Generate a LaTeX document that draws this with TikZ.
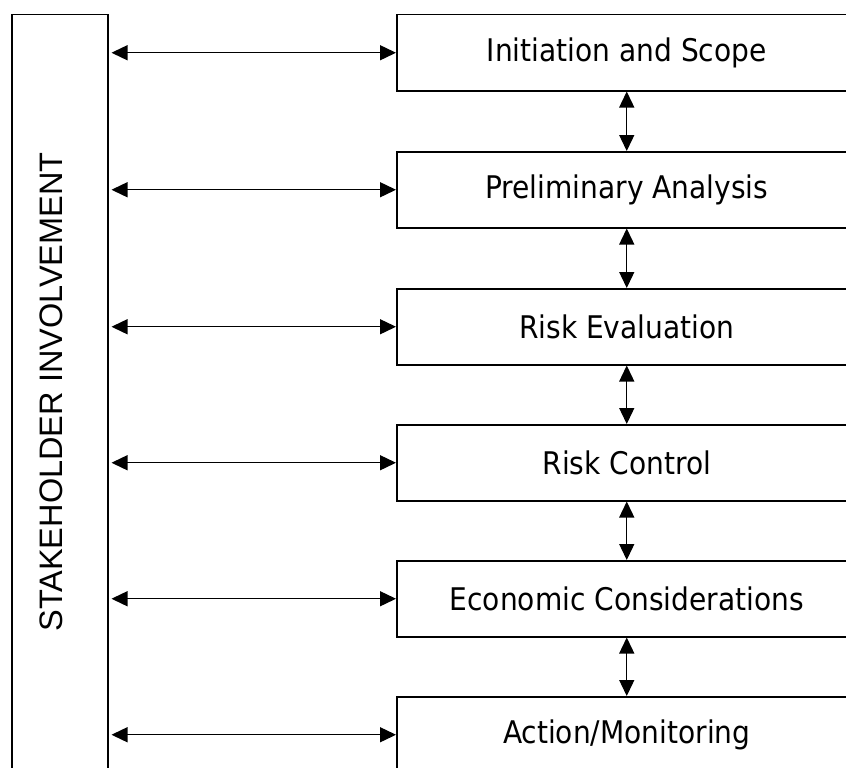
\documentclass[tikz,border=0pt]{standalone}
\usepackage{fontspec}
\setmainfont{Liberation Sans}
\newfontfamily\boxfont{DejaVu Sans Condensed}
\usetikzlibrary{arrows.meta}
\begin{document}
\begin{tikzpicture}[x=1pt,y=-1pt,
  stepbox/.style={draw=black,line width=1.5pt,minimum width=460pt,minimum height=76pt,inner sep=0pt,font=\boxfont\fontsize{31.2}{36}\selectfont,anchor=north west},
  link/.style={line width=1.4pt,{Triangle[length=16pt,width=15pt]}-{Triangle[length=16pt,width=15pt]}}
]
\useasboundingbox (0,0) rectangle (846,768);
\node[draw=black,line width=1.5pt,minimum width=96pt,minimum height=770pt,inner sep=0pt,anchor=north west] (sh) at (11,14) {};
\node[rotate=90,font=\fontsize{32.5}{36}\selectfont] (shl) at (51,392) {STAKEHOLDER INVOLVEMENT};
\node[stepbox] (b1) at (396,14) {Initiation and Scope};
\node[stepbox] (b2) at (396,151) {Preliminary Analysis};
\node[stepbox] (b3) at (396,288) {Risk Evaluation};
\node[stepbox] (b4) at (396,424) {Risk Control};
\node[stepbox] (b5) at (396,560) {Economic Considerations};
\node[stepbox] (b6) at (396,696) {Action/Monitoring};
\foreach \b in {b1,b2,b3,b4,b5,b6}{
  \draw[link,shorten <=3pt] (sh.east |- \b.west) -- (\b.west);
}
\foreach \a/\b in {b1/b2,b2/b3,b3/b4,b4/b5,b5/b6}{
  \draw[link] (\a.south) -- (\b.north);
}
\end{tikzpicture}
\end{document}
